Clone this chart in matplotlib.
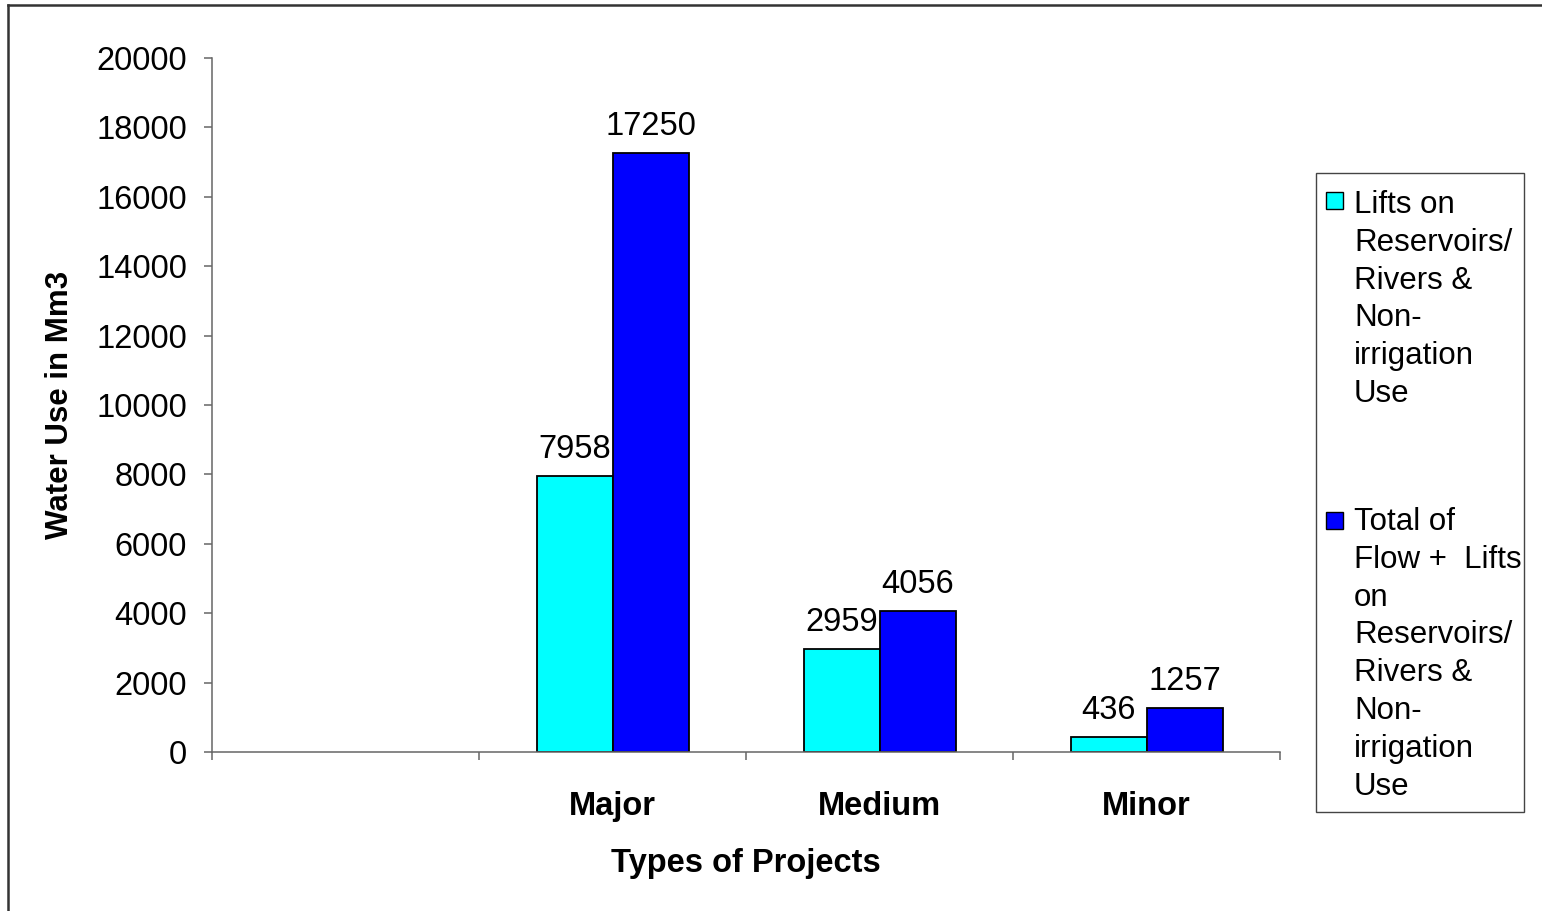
import matplotlib
matplotlib.use('Agg')
import matplotlib.pyplot as plt
from matplotlib.patches import Rectangle
from matplotlib.lines import Line2D
import numpy as np

plt.rcParams['font.family'] = ['Liberation Sans', 'DejaVu Sans']
plt.rcParams['font.size'] = 23.5

# Data: water use by project type (Mm3); first slot is left blank
categories = ['', 'Major', 'Medium', 'Minor']
lifts_use = [np.nan, 7958, 2959, 436]
total_use = [np.nan, 17250, 4056, 1257]
series_names = ['Lifts on\nReservoirs/\nRivers &\nNon-\nirrigation\nUse',
                'Total of\nFlow +  Lifts\non\nReservoirs/\nRivers &\nNon-\nirrigation\nUse']
colors = ['#00FFFF', '#0000FF']

W, H = 1542, 911
fig = plt.figure(figsize=(W / 100, H / 100), dpi=100)


def fx(px):
    return px / W


def fy(py):
    return 1 - py / H


# Plot area
ax = fig.add_axes([fx(212), fy(752), fx(1280) - fx(212), fy(58) - fy(752)])

x = np.arange(len(categories)) + 0.5
bw = 76 / 267
bars1 = ax.bar(x - bw / 2, lifts_use, bw, color=colors[0], edgecolor='black', linewidth=1.3)
bars2 = ax.bar(x + bw / 2, total_use, bw, color=colors[1], edgecolor='black', linewidth=1.3)

# Value labels above the bars
for bars, vals in [(bars1, lifts_use), (bars2, total_use)]:
    for b, v in zip(bars, vals):
        if np.isnan(v):
            continue
        ax.annotate(f'{v:.0f}', (b.get_x() + b.get_width() / 2, v),
                    xytext=(0, 8), textcoords='offset points',
                    ha='center', va='bottom', fontsize=23.5)

ax.set_xlim(0, len(categories))
ax.set_ylim(0, 20000)
ax.set_yticks(np.arange(0, 20001, 2000))
ax.set_yticklabels([str(v) for v in range(0, 20001, 2000)])

# Boundary ticks between categories, labels at centres
ax.set_xticks(np.arange(len(categories) + 1))
ax.set_xticklabels([])
ax.set_xticks(x, minor=True)
ax.set_xticklabels(categories, minor=True, fontweight='bold', fontsize=23.5)
ax.tick_params(axis='x', which='minor', length=0, pad=28)
ax.tick_params(axis='x', which='major', direction='out', length=6, width=1.1, color='#666666')
ax.tick_params(axis='y', direction='out', length=6, width=1.1, color='#666666', pad=12)

for side in ['top', 'right']:
    ax.spines[side].set_visible(False)
for side in ['left', 'bottom']:
    ax.spines[side].set_color('#666666')
    ax.spines[side].set_linewidth(1.1)

ax.set_xlabel('Types of Projects', fontweight='bold', fontsize=23.5, labelpad=19)
ax.set_ylabel('Water Use in Mm3', fontweight='bold', fontsize=22.5, labelpad=15)

# Legend box drawn on the figure
fig.patches.append(Rectangle((fx(1316), fy(812)), fx(1524) - fx(1316), fy(173) - fy(812),
                             transform=fig.transFigure, fill=False,
                             edgecolor='#444444', linewidth=1.0))
for name, col, top, sq_bottom in zip(series_names, colors, [190, 507], [209, 529]):
    fig.patches.append(Rectangle((fx(1326), fy(sq_bottom)), fx(17), 17 / H,
                                 transform=fig.transFigure, facecolor=col,
                                 edgecolor='black', linewidth=1.0))
    fig.text(fx(1354), fy(top), name, ha='left', va='top',
             fontsize=22.5, linespacing=1.34)

# Outer chart frame (left and top edges)
fig.lines.append(Line2D([fx(8), fx(8)], [0, fy(5)], transform=fig.transFigure,
                        color='#333333', linewidth=1.8))
fig.lines.append(Line2D([fx(8), 1], [fy(5), fy(5)], transform=fig.transFigure,
                        color='#333333', linewidth=1.8))

fig.savefig('out.png', dpi=100)
